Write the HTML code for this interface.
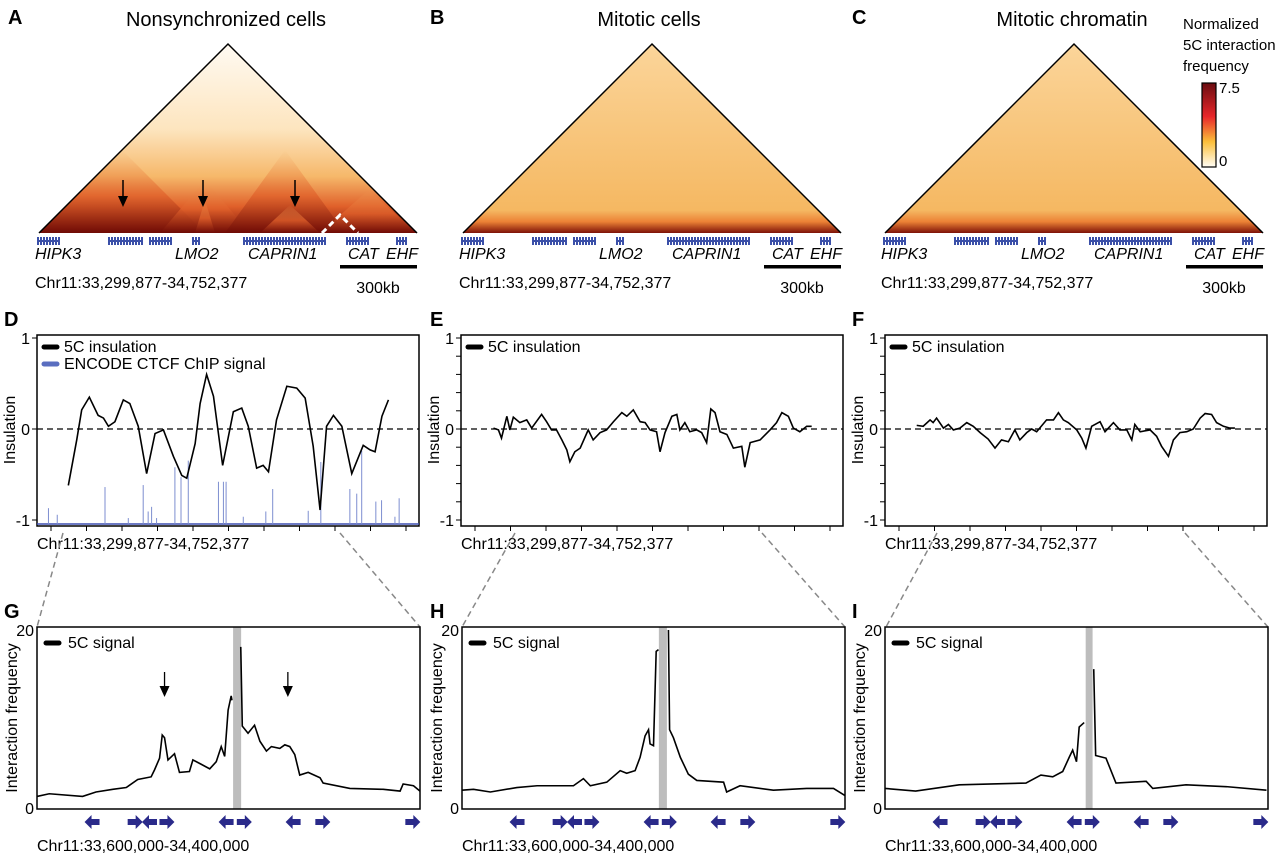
<!DOCTYPE html>
<html><head><meta charset="utf-8"><style>
body{margin:0;background:#fff}
svg{display:block;font-family:"Liberation Sans",Arial,sans-serif}
</style></head><body>
<svg id="fig" width="1280" height="856" viewBox="0 0 1280 856" xmlns="http://www.w3.org/2000/svg">
<defs>
<linearGradient id="gA" x1="0" y1="0" x2="0" y2="1">
<stop offset="0" stop-color="#fffaf2"/><stop offset="0.45" stop-color="#fde5bf"/><stop offset="0.7" stop-color="#f6b86a"/><stop offset="0.86" stop-color="#e0602a"/><stop offset="1" stop-color="#7a0c06"/></linearGradient>
<linearGradient id="gB" x1="0" y1="0" x2="0" y2="1">
<stop offset="0" stop-color="#fbd59a"/><stop offset="0.88" stop-color="#f5b862"/><stop offset="0.94" stop-color="#ec8236"/><stop offset="1" stop-color="#7e1208"/></linearGradient>
<linearGradient id="gD" x1="0" y1="0" x2="0" y2="1">
<stop offset="0" stop-color="#f2a45a" stop-opacity="0"/><stop offset="0.55" stop-color="#e0602a" stop-opacity="0.85"/><stop offset="1" stop-color="#6e0a05"/></linearGradient>
<linearGradient id="gCB" x1="0" y1="1" x2="0" y2="0">
<stop offset="0" stop-color="#fffdf5"/><stop offset="0.3" stop-color="#fbbf3a"/><stop offset="0.6" stop-color="#e8262a"/><stop offset="1" stop-color="#6a0c10"/></linearGradient>
<clipPath id="cA"><polygon points="39,233 228,44 417,233"/></clipPath>
</defs>
<g id="root"></g>
</svg>
<script>
// ---------- DATA ----------
const insulDPos=[8.2,10.4,11.7,13.7,16.0,17.4,18.7,20.4,22.6,24.3,26.5,28.7,30.9,33.1,35.7,37.9,39.2,41.4,42.7,44.4,46.2,48.6,51.4,53.6,55.3,57.5,59.2,60.6,62.7,65.4,68.0,70.2,72.3,74.1,75.8,77.6,79.8,82.4,85.4,87.2,88.5,90.3,92.0];
const insulDVal=[-0.62,-0.12,0.21,0.35,0.15,0.12,0.03,0.08,0.32,0.28,0.03,-0.49,-0.05,-0.01,-0.30,-0.51,-0.54,-0.16,0.28,0.60,0.36,-0.40,0.19,0.23,0.03,-0.43,-0.40,-0.47,0.10,0.47,0.45,0.34,-0.19,-0.89,0.03,0.15,0.03,-0.49,-0.18,-0.23,-0.25,0.14,0.32];
const ctcfPos=[3.0,5.3,17.8,23.9,27.8,29.1,30.0,31.3,36.1,37.7,39.6,47.5,48.8,49.5,54.0,59.9,61.7,71.0,74.3,81.9,83.7,85.0,88.7,90.2,93.7,94.8];
const ctcfVal=[24,14,56,9,59,19,26,9,86,71,96,64,64,64,11,19,53,20,94,53,46,111,34,36,11,39];
const insulEPos=[8.5,9.8,10.6,12.0,12.8,13.7,15.4,17.2,18.5,21.1,22.4,23.7,25.0,26.4,27.7,28.5,29.8,31.2,33.3,34.6,36.4,38.1,39.9,42.1,43.4,45.1,46.9,48.2,49.5,51.2,52.1,53.4,55.2,56.5,57.3,58.6,59.9,61.7,63.0,64.3,65.4,66.5,67.8,69.6,71.3,73.5,74.3,75.7,78.3,80.9,82.6,84.0,85.7,87.0,88.7,90.5,91.8];
const insulEVal=[0.01,-0.01,-0.10,0.14,-0.01,0.13,0.07,0.10,0.01,0.16,0.08,-0.01,-0.01,-0.12,-0.23,-0.36,-0.25,-0.21,-0.01,-0.12,-0.04,-0.01,0.08,0.18,0.14,0.21,0.08,0.07,-0.01,-0.03,-0.25,-0.04,0.14,0.16,-0.01,0.07,-0.03,-0.01,-0.04,-0.15,0.22,0.18,-0.03,-0.06,-0.21,-0.19,-0.42,-0.15,-0.12,-0.01,0.07,0.18,0.14,0.01,-0.03,0.03,0.03];
const insulFPos=[8.3,10.0,11.8,12.6,13.5,15.3,16.6,17.9,19.6,21.4,23.1,24.9,27.0,28.8,30.5,32.3,34.0,35.3,37.1,38.4,39.7,42.3,44.1,45.4,46.7,48.0,50.2,51.5,52.6,54.1,56.3,57.6,59.8,61.5,63.3,64.6,65.4,66.8,69.4,71.1,72.4,74.2,75.5,77.2,79.0,80.7,82.5,83.8,85.5,86.8,88.6,90.3,91.6];
const insulFVal=[0.04,0.03,0.10,0.07,0.12,0.01,0.05,-0.01,0.01,0.07,0.03,-0.04,-0.11,-0.21,-0.12,-0.14,-0.01,-0.12,-0.04,0,-0.03,0.10,0.10,0.18,0.10,0.07,-0.01,-0.10,-0.21,0.03,0.08,-0.03,0.07,-0.01,-0.01,-0.12,0.05,-0.03,-0.01,-0.08,-0.19,-0.30,-0.12,-0.04,-0.03,0,0.12,0.17,0.16,0.07,0.03,0.01,0.01];
const sigGPos=[0,3.2,11.9,15.4,19.8,23.3,26.3,29.8,30.7,32,32.7,33.3,34.2,35.9,37.2,39.8,40.7,42.5,45.1,46.8,48.1,49,49.9,50.7,50.9,null,53.2,53.6,55.1,56.8,58.2,59.9,61.2,63.4,64.7,66,67.3,68.6,70.8,73.9,74.7,81.7,90.4,94.8,95.6,98.3,100];
const sigGVal=[1.3,1.6,1.3,1.8,2.1,2.3,3.2,3.5,4.3,5.6,8.2,7.9,5.4,6.1,4.0,4.1,5.4,5.0,4.4,5.2,6.9,5.8,11.0,12.6,12.1,null,18.1,9.2,8.4,9.3,7.5,6.4,6.9,6.7,7.1,6.9,6.0,3.7,4.0,3.4,2.8,2.2,2.1,1.9,2.7,2.5,1.9];
const sigHPos=[0,3,7.4,14.3,19.6,29.1,31.7,33.5,37.8,41.3,43,45.2,46.5,47.8,48.7,49.1,50,50.7,51.3,null,53.9,54.2,55.2,57,59.1,61.3,68.3,69.1,72.6,81.3,90,97,100];
const sigHVal=[2.0,2.1,1.8,2.3,2.5,2.5,3.3,2.5,2.9,4.2,3.9,4.2,5.7,8.1,8.8,7.2,7.0,17.6,17.8,null,20,8.8,7.9,5.7,3.8,3.1,2.9,1.8,2.5,2.0,2.2,2.2,1.4];
const sigIPos=[0,8,19.4,28.1,36.8,40.7,43.8,46.4,48.1,49,50,50.7,52,null,54.5,55,57.7,60.3,68.2,69.9,78.6,89.1,99.6];
const sigIVal=[2.2,1.9,2.6,2.7,2.8,3.7,3.5,4.1,5.7,6.5,5.2,9.1,9.6,null,15.6,5.9,5.6,2.8,3.0,2.2,2.6,2.4,2.0];
const viewpointG=[51.2,53.3], viewpointH=[51.4,53.5], viewpointI=[52.4,54.2];
const insulTicks=[1,0,-1];
const sigTicks=[20,0];
const geneArrowPos=[14.5,25.5,29.5,33.8,49.5,54,67,74.5,98];
const geneArrowDir=[-1,1,-1,1,-1,1,-1,1,1];

// ---------- helpers ----------
const NS='http://www.w3.org/2000/svg';
const root=document.getElementById('root');
function mk(tag,attrs,parent){const e=document.createElementNS(NS,tag);for(const k in attrs)e.setAttribute(k,attrs[k]);(parent||root).appendChild(e);return e;}
function txt(s,attrs,parent){const e=mk('text',attrs,parent);e.textContent=s;return e;}

// ---------- titles & panel letters ----------
const letters=[['A',8,24],['B',430,24],['C',852,24],['D',4,326],['E',430,326],['F',852,326],['G',4,618],['H',430,618],['I',852,618]];
letters.forEach(l=>{const t=txt(l[0],{x:l[1],y:l[2],'font-size':20,'font-weight':'bold'});

});
[['Nonsynchronized cells',226],['Mitotic cells',649],['Mitotic chromatin',1072]].forEach((t,i)=>{const e=txt(t[0],{x:t[1],y:26,'font-size':20,'text-anchor':'middle'});

});

// ---------- colorbar ----------
['Normalized','5C interaction','frequency'].forEach((s,i)=>{const e=txt(s,{x:1183,y:29+i*21,'font-size':15});

});
const cb=mk('rect',{x:1202,y:83,width:14,height:84,fill:'url(#gCB)',stroke:'#000','stroke-width':1.2});


txt('7.5',{x:1219,y:93,'font-size':15});
txt('0',{x:1219,y:166,'font-size':15});

// ---------- heatmaps ----------
const heatOff=[0,424,846];
heatOff.forEach((o,i)=>{
  const g=mk('g',{transform:'translate('+o+',0)'});
  
  
  if(i===0){
    mk('polygon',{points:'39,233 228,44 417,233',fill:'url(#gA)'},g);
    const cg=mk('g',{'clip-path':'url(#cA)'},g);
    [[39,205,150],[160,250,180],[225,345,150],[320,417,190],[260,320,205],[195,215,200]].forEach(d=>{
      mk('polygon',{points:d[0]+',233 '+((d[0]+d[1])/2)+','+d[2]+' '+d[1]+',233',fill:'url(#gD)',opacity:0.9},cg);});
    mk('polyline',{points:'322,233 340,215 358,233',fill:'none',stroke:'#fff','stroke-width':3,'stroke-dasharray':'6,4'},g);
  } else {
    mk('polygon',{points:'39,233 228,44 417,233',fill:'url(#gB)'},g);
  }
  mk('polyline',{points:'39,233 228,44 417,233',fill:'none',stroke:'#000','stroke-width':1.5},g);
  // gene track
  [[37,58],[108,143],[149,170],[192,200],[243,325],[346,368],[396,405]].forEach(s=>{
    mk('line',{x1:s[0],x2:s[1],y1:241,y2:241,stroke:'#3a4fa8','stroke-width':2},g);
    for(let x=s[0];x<=s[1];x+=3) mk('rect',{x:x,y:237,width:2,height:8,fill:'#3a4fa8'},g);
  });
  [['HIPK3',35],['LMO2',175],['CAPRIN1',248],['CAT',348],['EHF',386]].forEach(l=>txt(l[0],{x:l[1],y:259,'font-size':16,'font-style':'italic'},g));
  txt('Chr11:33,299,877-34,752,377',{x:35,y:288,'font-size':16},g);
  mk('rect',{x:340,y:265,width:77,height:3.5,fill:'#000'},g);
  txt('300kb',{x:378,y:293,'font-size':16,'text-anchor':'middle'},g);
});
// black arrows in A
[123,203,295].forEach(x=>{mk('line',{x1:x,x2:x,y1:180,y2:198,stroke:'#000','stroke-width':1.5});mk('polygon',{points:(x-5)+',196 '+(x+5)+',196 '+x+',207',fill:'#000'});});

// ---------- insulation panels ----------
function insulPanel(L,name,pos,val,withCtcf){
  const R=L+382,T=335,B=526;
  const xs=p=>L+p/100*(R-L);
  const ys=v=>429-v*91;
  const g=mk('g',{});
  
  
  mk('rect',{x:L,y:T,width:R-L,height:B-T,fill:'#fff',stroke:'#000','stroke-width':1.5},g);
  if(withCtcf){
    mk('line',{x1:L,x2:R,y1:B-2,y2:B-2,stroke:'#3d4fb0','stroke-width':1.5},g);
    ctcfPos.forEach((p,i)=>{const s=mk('line',{x1:xs(p),x2:xs(p),y1:B-2,y2:B-2-ctcfVal[i]*0.66,stroke:'#7d8ed0','stroke-width':1},g);
      
      });
  }
  mk('line',{x1:L,x2:R,y1:ys(0),y2:ys(0),stroke:'#000','stroke-width':1.3,'stroke-dasharray':'6,4'},g);
  const path=mk('polyline',{points:pos.map((p,i)=>xs(p)+','+ys(val[i])).join(' '),fill:'none',stroke:'#000','stroke-width':1.6},g);
  
  
  insulTicks.forEach(t=>{mk('line',{x1:L-5,x2:L,y1:ys(t),y2:ys(t),stroke:'#000'},g);
    txt(String(t),{x:L-7,y:ys(t)+6,'font-size':16,'text-anchor':'end'},g);});
  if(!withCtcf) for(let t=-1;t<=1.001;t+=0.2) mk('line',{x1:L-5,x2:L,y1:ys(t),y2:ys(t),stroke:'#000'},g);
  for(let k=0;k<11;k++){const x=L+14+k*35.5;mk('line',{x1:x,x2:x,y1:B,y2:B+5,stroke:'#000'},g);}
  const yl=txt('Insulation',{x:0,y:0,'font-size':16,'text-anchor':'middle',transform:'translate('+(L-22)+',430) rotate(-90)'},g);
  
  
  mk('line',{x1:L+7,x2:L+20,y1:347,y2:347,stroke:'#000','stroke-width':5,'stroke-linecap':'round'},g);
  txt('5C insulation',{x:L+27,y:352,'font-size':16},g);
  if(withCtcf){mk('line',{x1:L+7,x2:L+20,y1:364,y2:364,stroke:'#5a6ec0','stroke-width':5,'stroke-linecap':'round'},g);
    txt('ENCODE CTCF ChIP signal',{x:L+27,y:369,'font-size':16},g);}
  txt('Chr11:33,299,877-34,752,377',{x:L,y:549,'font-size':16},g);
}
insulPanel(37,'insulation-panel-d',insulDPos,insulDVal,true);
insulPanel(461,'insulation-panel-e',insulEPos,insulEVal,false);
insulPanel(885,'insulation-panel-f',insulFPos,insulFVal,false);

// zoom dashed connectors
[[63,533,37,627],[340,533,420,627],[515,533,462,627],[762,533,845,627],[937,533,886,627],[1185,533,1268,627]].forEach(c=>{
  mk('line',{x1:c[0],y1:c[1],x2:c[2],y2:c[3],stroke:'#888','stroke-width':1.5,'stroke-dasharray':'6,4'});});

// ---------- 5C signal panels ----------
function sigPanel(L,name,pos,val,vp,arrows){
  const R=L+383,T=627,B=809;
  const xs=p=>L+p/100*(R-L);
  const ys=v=>808-v*8.9;
  const g=mk('g',{});
  
  
  mk('rect',{x:L,y:T,width:R-L,height:B-T,fill:'#fff'},g);
  const vb=mk('rect',{x:xs(vp[0]),y:T,width:xs(vp[1])-xs(vp[0]),height:B-T,fill:'#bdbdbd'},g);
  
  
  let seg=[];const segs=[];
  pos.forEach((p,i)=>{if(p===null){segs.push(seg);seg=[];}else seg.push(xs(p)+','+ys(Math.min(val[i],20)));});
  segs.push(seg);
  segs.forEach(s=>{const l=mk('polyline',{points:s.join(' '),fill:'none',stroke:'#000','stroke-width':1.6},g);
    
    });
  mk('rect',{x:L,y:T,width:R-L,height:B-T,fill:'none',stroke:'#000','stroke-width':1.5},g);
  sigTicks.forEach(t=>{txt(String(t),{x:L-3,y:ys(t)+6,'font-size':16,'text-anchor':'end'},g);});
  const yl=txt('Interaction frequency',{x:0,y:0,'font-size':16,'text-anchor':'middle',transform:'translate('+(L-20)+',718) rotate(-90)'},g);
  
  
  mk('line',{x1:L+9,x2:L+22,y1:643,y2:643,stroke:'#000','stroke-width':5,'stroke-linecap':'round'},g);
  txt('5C signal',{x:L+31,y:648,'font-size':16},g);
  geneArrowPos.forEach((p,i)=>{const x=xs(p),d=geneArrowDir[i];
    const a=mk('polygon',{points:(x-7*d)+',819 '+(x+1*d)+',819 '+(x+1*d)+',815 '+(x+8*d)+',822 '+(x+1*d)+',829 '+(x+1*d)+',825 '+(x-7*d)+',825',fill:'#2a2a8a'},g);
    
    });
  txt('Chr11:33,600,000-34,400,000',{x:L,y:851,'font-size':16},g);
  arrows.forEach(p=>{const x=xs(p);mk('line',{x1:x,x2:x,y1:672,y2:688,stroke:'#000','stroke-width':1.3},g);
    mk('polygon',{points:(x-5)+',686 '+(x+5)+',686 '+x+',697',fill:'#000'},g);});
}
sigPanel(37,'signal-panel-g',sigGPos,sigGVal,viewpointG,[33.3,65.5]);
sigPanel(462,'signal-panel-h',sigHPos,sigHVal,viewpointH,[]);
sigPanel(885,'signal-panel-i',sigIPos,sigIVal,viewpointI,[]);
</script>
</body></html>
